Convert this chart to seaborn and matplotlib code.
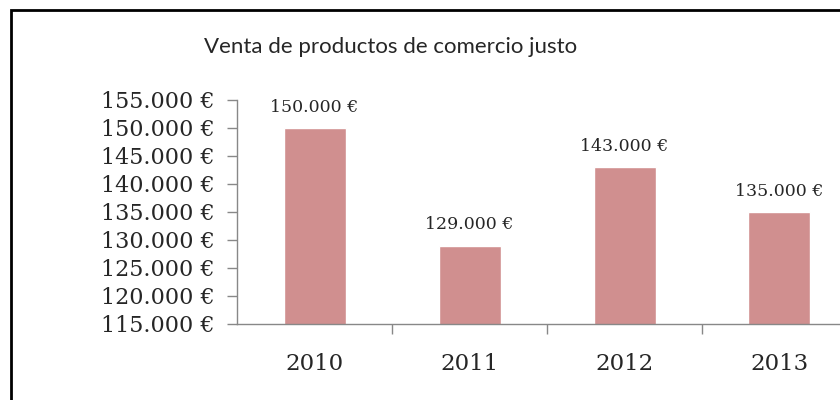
import matplotlib
matplotlib.use("Agg")
import matplotlib.pyplot as plt
import matplotlib.patches as patches
from matplotlib.ticker import FuncFormatter, FixedLocator
import seaborn as sns
import pandas as pd

years = ["2010", "2011", "2012", "2013"]
ventas = [150000, 129000, 143000, 135000]
titulo = "Venta de productos de comercio justo"


def euros(v, pos=None):
    return f"{int(v):,}".replace(",", ".") + " €"


df = pd.DataFrame({"year": years, "ventas": ventas})

sns.set_style("white")
plt.rcParams["font.family"] = ["DejaVu Serif"]

fig = plt.figure(figsize=(8.4, 4.0), dpi=100)
ax = fig.add_axes([237 / 840, 76 / 400, 620 / 840, 224 / 400])

sns.barplot(data=df, x="year", y="ventas", color="#D08F8F", width=0.4,
            saturation=1, ax=ax)

ax.set_ylim(115000, 155000)
ax.set_xlim(-0.5, 3.5)
ax.yaxis.set_major_locator(FixedLocator(range(115000, 155001, 5000)))
ax.yaxis.set_major_formatter(FuncFormatter(euros))
ax.xaxis.set_minor_locator(FixedLocator([0.5, 1.5, 2.5]))

ax.tick_params(axis="y", which="major", length=7, width=1, color="#888888",
               labelsize=16, pad=9, direction="out", left=True)
ax.tick_params(axis="x", which="major", length=0, labelsize=16.5, pad=21)
ax.tick_params(axis="x", which="minor", length=7, width=1, color="#888888",
               bottom=True, direction="out")

for s in ["top", "right"]:
    ax.spines[s].set_visible(False)
for s in ["left", "bottom"]:
    ax.spines[s].set_color("#888888")
    ax.spines[s].set_linewidth(1)

ax.set_xlabel("")
ax.set_ylabel("")

for c in ax.containers:
    ax.bar_label(c, labels=[euros(v) for v in ventas], padding=9, fontsize=12.5)

fig.text(391 / 840, 1 - 47 / 400, titulo, ha="center", va="center",
         fontsize=16, family=["Lato", "DejaVu Sans"])

border = patches.Rectangle((11 / 840, -0.1), 1.2, 0.975 + 0.1, transform=fig.transFigure,
                           fill=False, edgecolor="black", linewidth=2)
fig.patches.append(border)

fig.savefig("out.png", dpi=100)
